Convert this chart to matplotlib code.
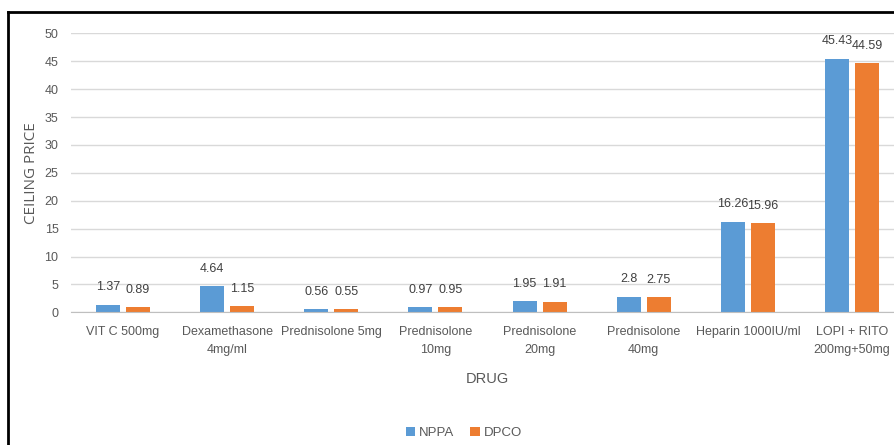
import matplotlib.pyplot as plt
import numpy as np
from matplotlib.lines import Line2D

drugs = ["VIT C 500mg", "Dexamethasone\n4mg/ml", "Prednisolone 5mg",
         "Prednisolone\n10mg", "Prednisolone\n20mg", "Prednisolone\n40mg",
         "Heparin 1000IU/ml", "LOPI + RITO\n200mg+50mg"]
nppa = [1.37, 4.64, 0.56, 0.97, 1.95, 2.8, 16.26, 45.43]
dpco = [0.89, 1.15, 0.55, 0.95, 1.91, 2.75, 15.96, 44.59]
yticks = [0, 5, 10, 15, 20, 25, 30, 35, 40, 45, 50]

plt.rcParams['font.family'] = ['Liberation Sans', 'DejaVu Sans']

fig = plt.figure(figsize=(8.94, 4.45), dpi=100)
ax = fig.add_axes([71 / 894, 1 - 312.3 / 445, 833 / 894, 279 / 445])

x = np.arange(len(drugs))
w = 0.23
off = 0.144
b1 = ax.bar(x - off, nppa, w, color='#5B9BD5', label='NPPA', zorder=3)
b2 = ax.bar(x + off, dpco, w, color='#ED7D31', label='DPCO', zorder=3)

for bars, vals in ((b1, nppa), (b2, dpco)):
    for b, v in zip(bars, vals):
        ax.annotate(f"{v:g}", (b.get_x() + b.get_width() / 2, v),
                    xytext=(0, 12.5), textcoords='offset points',
                    ha='center', va='center', fontsize=9, color='#404040')

ax.set_xlim(-0.5, len(drugs) - 0.5)
ax.set_ylim(0, 50)
ax.set_yticks(yticks)
ax.set_xticks(x)
ax.set_xticklabels(drugs, fontsize=9, color='#595959', linespacing=1.6)
ax.tick_params(axis='y', labelsize=9, labelcolor='#595959', length=0, pad=9)
ax.tick_params(axis='x', length=0, pad=10)
ax.grid(axis='y', color='#d9d9d9', linewidth=1, zorder=0)
for s in ['top', 'right', 'left']:
    ax.spines[s].set_visible(False)
ax.spines['bottom'].set_color('#bfbfbf')
ax.spines['bottom'].set_zorder(4)

ax.set_ylabel("CEILING PRICE", fontsize=11, color='#595959',
              family=['Open Sans', 'DejaVu Sans'], labelpad=4)
ax.set_xlabel("DRUG", fontsize=10.5, color='#595959', labelpad=12)

fig.legend(handles=[b1, b2], labels=['NPPA', 'DPCO'], loc='center',
           bbox_to_anchor=(464 / 894, 1 - 433 / 445), ncol=2, frameon=False,
           fontsize=9.5, labelcolor='#595959', handlelength=0.7, handleheight=0.7,
           handletextpad=0.3, columnspacing=1.2)

# frame around the chart (left and top edges)
fig.add_artist(Line2D([8 / 894, 8 / 894], [0, 1 - 12 / 445], color='black', lw=2))
fig.add_artist(Line2D([8 / 894, 893 / 894], [1 - 12 / 445, 1 - 12 / 445], color='black', lw=2))

fig.savefig("out.png", dpi=100)
